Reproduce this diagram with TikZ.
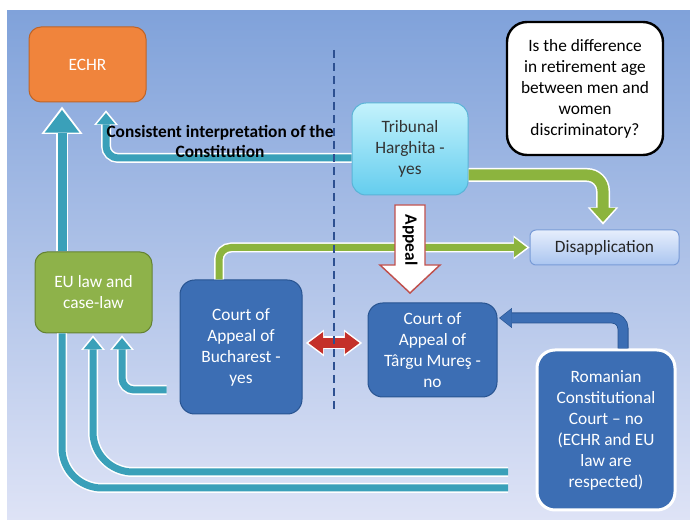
\documentclass[tikz,border=0pt]{standalone}
\usepackage{fontspec}
\setmainfont{Carlito}
\usetikzlibrary{arrows.meta}
\definecolor{bgtop}{RGB}{128,162,218}
\definecolor{bgbottom}{RGB}{222,227,246}
\definecolor{echrorange}{RGB}{240,132,60}
\definecolor{echredge}{RGB}{190,100,40}
\definecolor{eugreen}{RGB}{142,178,74}
\definecolor{euedge}{RGB}{100,130,50}
\definecolor{courtblue}{RGB}{60,110,180}
\definecolor{courtedge}{RGB}{40,84,145}
\definecolor{tribtop}{RGB}{195,242,252}
\definecolor{tribbottom}{RGB}{100,205,238}
\definecolor{tribedge}{RGB}{90,180,215}
\definecolor{distop}{RGB}{230,238,252}
\definecolor{disbottom}{RGB}{170,197,240}
\definecolor{disedge}{RGB}{120,155,215}
\definecolor{flowteal}{RGB}{58,160,185}
\definecolor{flowgreen}{RGB}{140,180,62}
\definecolor{flowred}{RGB}{196,48,42}
\definecolor{appealred}{RGB}{192,80,77}
\definecolor{divblue}{RGB}{45,80,145}

\begin{document}
\begin{tikzpicture}[x=0.75pt, y=-0.75pt,
    every node/.style={font=\fontsize{13}{15.75}\selectfont},
    box/.style={rectangle, align=center, inner sep=0pt, line width=0.75pt},
    court/.style={box, rounded corners=11pt, draw=courtedge, fill=courtblue, text=white},
    tealflow/.style={line width=5.25pt, draw=flowteal, rounded corners=9pt,
        -{Triangle[length=8.5pt, width=14pt, line width=0pt]},
        preaction={draw=white, line width=7.5pt, shorten >=-2pt,
            -{Triangle[length=11pt, width=18pt, line width=0pt]}}},
    tealbig/.style={line width=6.75pt, draw=flowteal,
        -{Triangle[length=17pt, width=26pt, line width=0pt]},
        preaction={draw=white, line width=9pt, shorten >=-2.5pt,
            -{Triangle[length=20.5pt, width=31pt, line width=0pt]}}},
    tealline/.style={line width=5.25pt, draw=flowteal, rounded corners=30pt,
        preaction={draw=white, line width=7.5pt}},
    greenflow/.style={line width=5.25pt, draw=flowgreen, shorten >=2pt,
        rounded corners=9pt,
        -{Triangle[length=9.5pt, width=14.5pt, line width=0pt]},
        preaction={draw=white, line width=7.5pt, shorten >=0pt,
            -{Triangle[length=12pt, width=18pt, line width=0pt]}}},
    greenbig/.style={line width=8.25pt, draw=flowgreen, rounded corners=12pt,
        -{Triangle[length=10.5pt, width=19pt, line width=0pt]},
        preaction={draw=white, line width=10.5pt, shorten >=-2pt,
            -{Triangle[length=13pt, width=23pt, line width=0pt]}}},
    blueflow/.style={line width=7pt, draw=courtblue, rounded corners=8pt, shorten >=2pt,
        -{Triangle[length=8.5pt, width=13.5pt, line width=0pt]},
        preaction={draw=courtedge, line width=8.25pt, shorten >=1.2pt,
            -{Triangle[length=9.5pt, width=15pt, line width=0pt]}}},
    redflow/.style={line width=7.5pt, draw=flowred, shorten <=4.5pt, shorten >=6pt,
        {Triangle[length=11pt, width=16.5pt, line width=0pt]}-{Triangle[length=11pt, width=16.5pt, line width=0pt]},
        preaction={draw=white, line width=9.75pt, shorten <=2.5pt, shorten >=4pt,
            {Triangle[length=13.5pt, width=20pt, line width=0pt]}-{Triangle[length=13.5pt, width=20pt, line width=0pt]}}}]

% frame and backdrop
\useasboundingbox (0,0) rectangle (690,520);
\shade[top color=bgtop, bottom color=bgbottom] (7,11) rectangle (690,520);

% courts and bodies
\node (echr)   [box, rounded corners=9pt, draw=echredge, fill=echrorange, text=white,
                minimum width=87.75pt, minimum height=56.25pt] at (87.5,64.5) {ECHR};
\node (quest)  [box, rounded corners=15pt, draw=black, line width=1.8pt, fill=white,
                minimum width=117pt, minimum height=99.75pt] at (585,88.5)
               {Is the difference\\in retirement age\\between men and\\women\\discriminatory?};
\node (trib)   [box, rounded corners=10.5pt, draw=tribedge, top color=tribtop, bottom color=tribbottom,
                text=black!80, minimum width=87pt, minimum height=69pt] at (410,149) {Tribunal\\Harghita -\\yes};
\node (disapp) [box, rounded corners=4.5pt, draw=disedge, top color=distop, bottom color=disbottom,
                text=black!85, minimum width=111.75pt, minimum height=26.25pt] at (604.5,247.5) {Disapplication};
\node (eu)     [box, rounded corners=9pt, draw=euedge, fill=eugreen, text=white,
                minimum width=87.75pt, minimum height=60.75pt] at (93.5,292.5) {EU law and\\case-law};
\node (buch)   [court, minimum width=91.5pt, minimum height=100.5pt] at (241,347)
               {Court of\\Appeal of\\Bucharest -\\yes};
\node (targu)  [court, minimum width=96.75pt, minimum height=70.5pt] at (432.5,350)
               {Court of\\Appeal of\\Târgu Mureş -\\no};
\node (const)  [court, rounded corners=13.5pt, draw=white, line width=2.25pt,
                minimum width=103.5pt, minimum height=120pt] at (606,430)
               {Romanian\\Constitutional\\Court – no\\(ECHR and EU\\law are\\respected)};

% free ends of the flows
\coordinate (tipcons)  at (106,113);
\coordinate (tipechr)  at (62,110);
\coordinate (tipinner) at (93,338);
\coordinate (tipbuch)  at (122,338);
\coordinate (tipdis)   at (603,222);
\coordinate (bandin)   at (508,472);
\coordinate (bandout)  at (508,488);

% teal flows
\draw [tealflow] (trib.west |- 0,158) -| (tipcons);
\draw [tealbig]  (62,0 |- eu.north) -- (tipechr);
\draw [tealflow, shorten <=9.75pt] (buch.west |- 0,390) -| (tipbuch);
\draw [tealflow, rounded corners=30pt] (bandin) -| (tipinner);
\draw [tealline] (bandout) -| (62,0 |- eu.south);

% green flows
\draw [greenbig]  (trib.east |- 0,175) -| (tipdis);
\draw [greenflow] (219,0 |- buch.north) |- (disapp.west);

% blue and red
\draw [blueflow] (623,0 |- const.north) |- (targu.east |- 0,318);
\draw [redflow]  (buch.east |- 0,343) -- (targu.west |- 0,343);

% appeal
\draw [appealred, fill=white, line width=1.1pt] (395,205) -- (425,205) -- (425,265) -- (440,265)
      -- (410,293) -- (380,265) -- (395,265) -- cycle;
\node (appeal) [rotate=-90, font=\bfseries\fontsize{13}{15}\selectfont] at (410,240) {Appeal};

% divider
\draw [divblue, line width=0.9pt, dash pattern=on 6pt off 3.75pt] (334,50) -- (334,413);

\node (cons) [align=center, font=\bfseries\fontsize{13}{15}\selectfont] at (220,141)
      {Consistent interpretation of the\\Constitution};

\end{tikzpicture}
\end{document}
